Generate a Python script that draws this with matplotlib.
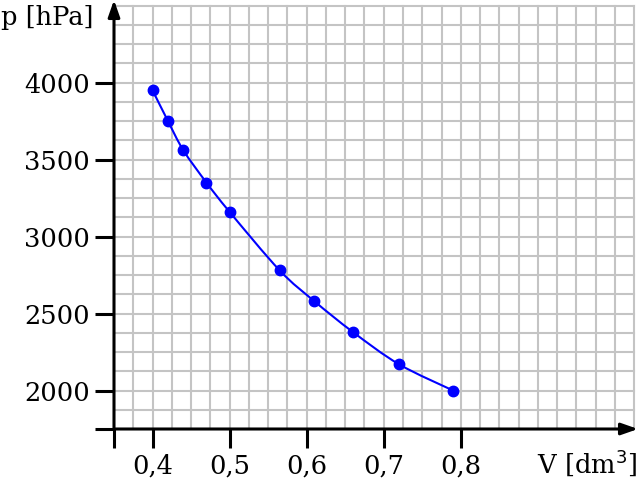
import numpy as np
import matplotlib.pyplot as plt
from matplotlib.path import Path
from matplotlib.patches import PathPatch

# Messwerte (isotherme Kompression)
V = [0.40, 0.42, 0.44, 0.47, 0.50, 0.565, 0.61, 0.66, 0.72, 0.79]
p = [3950, 3750, 3560, 3350, 3160, 2780, 2580, 2380, 2170, 2000]

x_ticks = [0.4, 0.5, 0.6, 0.7, 0.8]
x_labels = ['0,4', '0,5', '0,6', '0,7', '0,8']
y_ticks = [2000, 2500, 3000, 3500, 4000]

plt.rcParams['font.family'] = 'DejaVu Serif'

fig = plt.figure(figsize=(6.4, 4.82), dpi=100)
ax = fig.add_axes([114/640, 53/482, 524/640, 429/482])
ax.set_xlim(0.35, 1.03)
ax.set_ylim(1750, 4536)

# Millimeterpapier-Gitter
grid_c = '#c4c4c4'
for gx in np.arange(0.375, 1.026, 0.025):
    ax.plot([gx, gx], [1750, 4500], color=grid_c, lw=1.5, zorder=1)
for gy in np.arange(1875, 4501, 125):
    ax.plot([0.35, 1.025], [gy, gy], color=grid_c, lw=1.5, zorder=1)

for s in ax.spines.values():
    s.set_visible(False)

# Achsen mit Pfeilen
arr = dict(arrowstyle='-|>,head_length=1.0,head_width=0.35', lw=2.2, color='black',
           shrinkA=0, shrinkB=0)
ax.annotate('', xy=(1.03, 1750), xytext=(0.35, 1750), arrowprops=arr,
            annotation_clip=False, zorder=3)
ax.annotate('', xy=(0.35, 4536), xytext=(0.35, 1750), arrowprops=arr,
            annotation_clip=False, zorder=3)

ax.set_xticks([0.35] + x_ticks)
ax.set_xticklabels([''] + x_labels)
ax.set_yticks([1750] + y_ticks)
ax.set_yticklabels([''] + [str(v) for v in y_ticks])
ax.tick_params(direction='out', length=13.5, width=2.2, labelsize=18.5, pad=4)

# glatte Kurve durch die Messpunkte (Bezier-Pfad)
pts = np.column_stack([V, p])
verts = [pts[0]]
codes = [Path.MOVETO]
n = len(pts)
for i in range(n - 1):
    p0 = pts[max(i - 1, 0)]
    p1 = pts[i]
    p2 = pts[i + 1]
    p3 = pts[min(i + 2, n - 1)]
    verts += [p1 + (p2 - p0) / 6, p2 - (p3 - p1) / 6, p2]
    codes += [Path.CURVE4] * 3
ax.add_patch(PathPatch(Path(verts, codes), fill=False, edgecolor='#0000ff',
                       lw=1.5, zorder=4))
ax.plot(V, p, linestyle='none', color='#0000ff', marker='o', ms=7.5, zorder=5)

fig.text(1/640, 1 - 18/482, 'p [hPa]', fontsize=18.5, va='center', ha='left')
fig.text(637/640, 1 - 463/482, 'V [dm$^3$]', fontsize=18.5, va='center', ha='right')

fig.savefig('out.png', dpi=100)
